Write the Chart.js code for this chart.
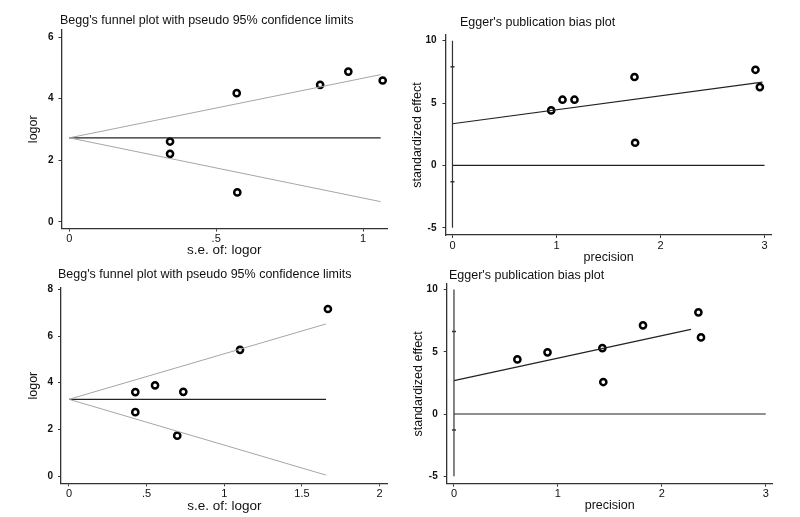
<!DOCTYPE html>
<html>
<head>
<meta charset="utf-8">
<script src="https://cdn.jsdelivr.net/npm/chart.js@4/dist/chart.umd.min.js"></script>
<style>
  html, body { margin: 0; padding: 0; background: #fff; }
  #wrap { position: relative; width: 800px; height: 517px; overflow: hidden; }
  canvas { position: absolute; }
</style>
</head>
<body>
<div id="wrap">
  <canvas id="c3" width="400" height="259" style="left:0;top:258px"></canvas>
  <canvas id="c4" width="400" height="259" style="left:400px;top:258px"></canvas>
  <canvas id="c1" width="400" height="258" style="left:0;top:0"></canvas>
  <canvas id="c2" width="400" height="266" style="left:400px;top:0"></canvas>
</div>
<script>
// Begg's funnel plot, top
const beggTopSe = [0.343, 0.343, 0.570, 0.572, 0.854, 0.950, 1.067];
const beggTopLogor = [2.61, 2.21, 4.18, 0.96, 4.45, 4.88, 4.59];
const beggTopLineSe = [0, 1.06];
const beggTopCentre = [2.73, 2.73];
const beggTopUpper = [2.73, 4.78];
const beggTopLower = [2.73, 0.66];

// Egger's plot, top
const eggerTopPrecision = [0.949, 1.058, 1.173, 1.75, 1.756, 2.913, 2.955];
const eggerTopEffect = [4.41, 5.27, 5.27, 7.09, 1.82, 7.67, 6.28];
const eggerTopFitX = [0, 2.98];
const eggerTopFitY = [3.34, 6.68];
const eggerTopCi = [7.92, -1.3];

// Begg's funnel plot, bottom
const beggBotSe = [0.427, 0.427, 0.554, 0.736, 0.697, 1.101, 1.667];
const beggBotLogor = [3.60, 2.74, 3.89, 3.61, 1.73, 5.41, 7.16];
const beggBotLineSe = [0, 1.655];
const beggBotCentre = [3.29, 3.29];
const beggBotUpper = [3.29, 6.52];
const beggBotLower = [3.29, 0.04];

// Egger's plot, bottom
const eggerBotPrecision = [0.61, 0.90, 1.428, 1.437, 1.819, 2.352, 2.377];
const eggerBotEffect = [4.39, 4.96, 5.30, 2.57, 7.13, 8.17, 6.16];
const eggerBotFitX = [0, 2.28];
const eggerBotFitY = [2.68, 6.80];
const eggerBotCi = [6.64, -1.29];

const eggerZeroX = [0, 3];
const eggerZeroY = [0, 0];
const eggerVertY = [-5, 10];

// tick values / labels
const beggTopXTicks = [0, 0.5, 1];
const beggTopXLabels = ['0', '.5', '1'];
const beggTopYTicks = [0, 2, 4, 6];
const beggBotXTicks = [0, 0.5, 1, 1.5, 2];
const beggBotXLabels = ['0', '.5', '1', '1.5', '2'];
const beggBotYTicks = [0, 2, 4, 6, 8];
const eggerXTicks = [0, 1, 2, 3];
const eggerXLabels = ['0', '1', '2', '3'];
const eggerYTicks = [-5, 0, 5, 10];

const FONT = "'Liberation Sans', Arial, sans-serif";

const pts = (xs, ys) => xs.map((x, i) => ({ x: x, y: ys[i] }));

function studies(xs, ys) {
  return {
    data: pts(xs, ys), showLine: false,
    pointStyle: 'circle', pointRadius: 3.1, pointHoverRadius: 3.1,
    pointBackgroundColor: '#fff', pointBorderColor: '#000', pointBorderWidth: 2.5
  };
}
function line(xs, ys, color, width) {
  return { data: pts(xs, ys), showLine: true, pointRadius: 0, borderColor: color, borderWidth: width };
}

const panelTitle = {
  id: 'panelTitle',
  afterDraw(chart, args, opts) {
    const ctx = chart.ctx;
    ctx.save();
    ctx.font = opts.font;
    ctx.fillStyle = '#111';
    ctx.textBaseline = 'alphabetic';
    ctx.fillText(opts.text, opts.x, opts.y);
    ctx.restore();
  }
};

function axis(a, horizontal, boxSize) {
  return {
    type: 'linear', min: a.min, max: a.max,
    afterBuildTicks: s => { s.ticks = a.ticks.map(v => ({ value: v })); },
    afterFit: s => {
      if (horizontal) s.height = boxSize; else s.width = boxSize;
      s.paddingLeft = 0; s.paddingRight = 0; s.paddingTop = 0; s.paddingBottom = 0;
    },
    grid: { display: true, drawOnChartArea: false, drawTicks: true, tickLength: 3, color: '#333', lineWidth: 1 },
    border: { display: true, color: '#333', width: 1.3 },
    ticks: {
      color: '#111', padding: a.tickPad,
      font: { family: FONT, size: a.tickSize, weight: a.tickWeight || 'normal' },
      callback: v => a.labels ? a.labels[a.ticks.indexOf(v)] : String(v)
    },
    title: { display: true, text: a.title, color: '#111', padding: { top: a.titlePad, bottom: a.titlePad },
      font: { family: FONT, size: a.titleSize } }
  };
}

function panel(id, cfg) {
  const cv = document.getElementById(id);
  const W = cv.width, H = cv.height, A = cfg.area;
  new Chart(cv, {
    type: 'scatter',
    data: { datasets: cfg.datasets },
    plugins: [panelTitle],
    options: {
      responsive: false, animation: false, devicePixelRatio: 1,
      layout: { padding: { left: 0, top: A.t, right: W - A.r, bottom: 0 } },
      scales: {
        x: axis(cfg.x, true, H - A.b),
        y: axis(cfg.y, false, A.l)
      },
      plugins: {
        legend: { display: false }, tooltip: { enabled: false },
        panelTitle: { text: cfg.title.text, x: cfg.title.x, y: cfg.title.y, font: '12.5px ' + FONT }
      }
    }
  });
}

const BEGG = "Begg's funnel plot with pseudo 95% confidence limits";
const EGGER = "Egger's publication bias plot";

panel('c1', {
  area: { l: 61.5, r: 387, t: 30, b: 228.5 },
  x: { min: -0.0266, max: 1.0817, ticks: beggTopXTicks, labels: beggTopXLabels, title: 's.e. of: logor', tickPad: 1, tickSize: 11, titlePad: 0, titleSize: 13.5 },
  y: { min: -0.211, max: 6.228, ticks: beggTopYTicks, title: 'logor', tickPad: 5, tickSize: 10, tickWeight: 'bold', titlePad: 26, titleSize: 12.5 },
  title: { text: BEGG, x: 60, y: 24 },
  datasets: [
    line(beggTopLineSe, beggTopUpper, '#a6a6a6', 1),
    line(beggTopLineSe, beggTopLower, '#a6a6a6', 1),
    line(beggTopLineSe, beggTopCentre, '#222', 1.2),
    studies(beggTopSe, beggTopLogor)
  ]
});

panel('c2', {
  area: { l: 45.5, r: 371.7, t: 35, b: 235 },
  x: { min: -0.067, max: 3.069, ticks: eggerXTicks, labels: eggerXLabels, title: 'precision', tickPad: 1, tickSize: 11, titlePad: 1, titleSize: 12.5 },
  y: { min: -5.58, max: 10.46, ticks: eggerYTicks, title: 'standardized effect', tickPad: 6, tickSize: 10, tickWeight: 'bold', titlePad: 10, titleSize: 12.5 },
  title: { text: EGGER, x: 60, y: 26 },
  datasets: [
    line([0, 0], eggerVertY, '#333', 1.2),
    line(eggerZeroX, eggerZeroY, '#222', 1.2),
    line(eggerTopFitX, eggerTopFitY, '#222', 1.2),
    { data: pts([0, 0], eggerTopCi), showLine: false, pointStyle: 'line', pointRadius: 2, borderColor: '#333', pointBorderWidth: 1.5 },
    studies(eggerTopPrecision, eggerTopEffect)
  ]
});

panel('c3', {
  area: { l: 61, r: 387.7, t: 30, b: 225.3 },
  x: { min: -0.0515, max: 2.052, ticks: beggBotXTicks, labels: beggBotXLabels, title: 's.e. of: logor', tickPad: 1, tickSize: 11, titlePad: 3, titleSize: 13.5 },
  y: { min: -0.31, max: 8.06, ticks: beggBotYTicks, title: 'logor', tickPad: 5, tickSize: 10, tickWeight: 'bold', titlePad: 26, titleSize: 12.5 },
  title: { text: BEGG, x: 58, y: 20 },
  datasets: [
    line(beggBotLineSe, beggBotUpper, '#a6a6a6', 1),
    line(beggBotLineSe, beggBotLower, '#a6a6a6', 1),
    line(beggBotLineSe, beggBotCentre, '#222', 1.2),
    studies(beggBotSe, beggBotLogor)
  ]
});

panel('c4', {
  area: { l: 46.7, r: 372.7, t: 26, b: 225.7 },
  x: { min: -0.070, max: 3.067, ticks: eggerXTicks, labels: eggerXLabels, title: 'precision', tickPad: 1, tickSize: 11, titlePad: 4, titleSize: 12.5 },
  y: { min: -5.6, max: 10.45, ticks: eggerYTicks, title: 'standardized effect', tickPad: 6, tickSize: 10, tickWeight: 'bold', titlePad: 11, titleSize: 12.5 },
  title: { text: EGGER, x: 49, y: 21 },
  datasets: [
    line([0, 0], eggerVertY, '#333', 1.2),
    line(eggerZeroX, eggerZeroY, '#222', 1.2),
    line(eggerBotFitX, eggerBotFitY, '#222', 1.2),
    { data: pts([0, 0], eggerBotCi), showLine: false, pointStyle: 'line', pointRadius: 2, borderColor: '#333', pointBorderWidth: 1.5 },
    studies(eggerBotPrecision, eggerBotEffect)
  ]
});
</script>
</body>
</html>
